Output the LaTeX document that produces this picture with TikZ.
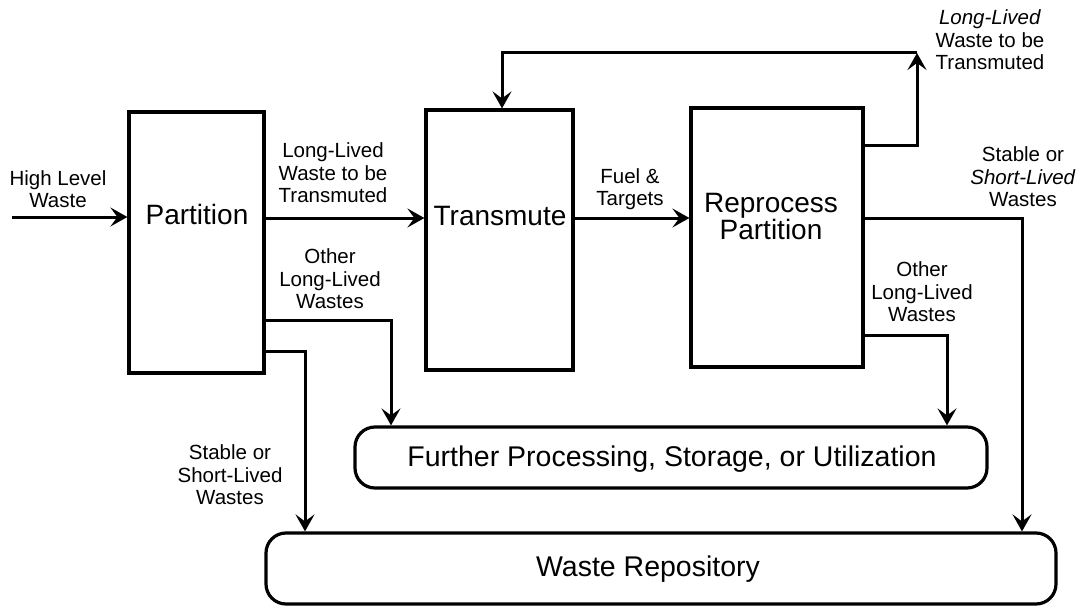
\documentclass[tikz,border=0pt]{standalone}
\usepackage{fontspec}
\setmainfont{Liberation Sans}
\usetikzlibrary{arrows.meta}
\begin{document}
\begin{tikzpicture}[x=1pt,y=-1pt,
  boxst/.style={draw,line width=3.2pt,inner sep=0pt,minimum width=#1},
  roundbox/.style={draw,line width=3.2pt,inner sep=0pt,rounded corners=20pt},
  boxtext/.style={inner sep=0pt,align=center,font=\fontsize{28}{28}\selectfont},
  bigtext/.style={inner sep=0pt,font=\fontsize{28.5}{30}\selectfont},
  lab/.style={inner sep=0pt,align=center,font=\fontsize{20.5}{22.5}\selectfont},
  arr/.style={line width=3pt,-{Stealth[length=17pt,width=19pt,inset=7pt]}}]
\useasboundingbox (0,0) rectangle (1089,607);
% boxes
\node[boxst=135pt,minimum height=261pt] (part) at (196.5,242.5) {};
\node[boxtext] (parttext) at (197,214) {Partition};
\node[boxst=147pt,minimum height=260pt] (trans) at (499.5,240) {};
\node[boxtext] (transtext) at (500,216) {Transmute};
\node[boxst=172pt,minimum height=259pt] (rep) at (777,237.5) {};
\node[boxtext,font=\fontsize{28}{27}\selectfont] (reptext) at (771,217) {Reprocess\\Partition};
\node[roundbox,minimum width=632pt,minimum height=61pt] (further) at (671,457.5) {};
\node[bigtext] (furthertext) at (672,459) {Further Processing, Storage, or Utilization};
\node[roundbox,minimum width=790pt,minimum height=71pt] (repo) at (661,568.5) {};
\node[bigtext] (repotext) at (648,569) {Waste Repository};
% helper coordinates
\coordinate (hlw) at (12,217);
\coordinate (yA) at (0,218);
\coordinate (ol) at (391,320);
\coordinate (sl) at (305,351);
\coordinate (fbR) at (917,53);
\coordinate (fbL) at (502,53);
\coordinate (yB) at (0,145);
\coordinate (sr) at (1022,218);
\coordinate (orr) at (947,335);
% connectors
\draw[arr] (hlw) -- (hlw -| part.west);
\draw[arr] (part.east |- yA) -- (trans.west |- yA);
\draw[arr] (trans.east |- yA) -- (rep.west |- yA);
\draw[arr] (part.east |- ol) -| (ol |- further.north);
\draw[arr] (part.east |- sl) -| (sl |- repo.north);
\draw[arr] (rep.east |- yB) -| (fbR);
\draw[arr] (fbR) -- (fbL) -- (fbL |- trans.north);
\draw[arr] (rep.east |- sr) -| (sr |- repo.north);
\draw[arr] (rep.east |- orr) -| (orr |- further.north);
% labels
\node[lab] (l1) at (58,189) {High Level\\Waste};
\node[lab] (l2) at (333,173) {Long-Lived\\Waste to be\\Transmuted};
\node[lab] (l3) at (330,279) {Other\\Long-Lived\\Wastes};
\node[lab] (l4) at (230,475) {Stable or\\Short-Lived\\Wastes};
\node[lab] (l5) at (630,189) {Fuel \&\\Targets};
\node[lab] (l6) at (990,40) {\textit{Long-Lived}\\Waste to be\\Transmuted};
\node[lab] (l7) at (1023,177) {Stable or\\\textit{Short-Lived}\\Wastes};
\node[lab] (l8) at (922,292) {Other\\Long-Lived\\Wastes};
\end{tikzpicture}
\end{document}
